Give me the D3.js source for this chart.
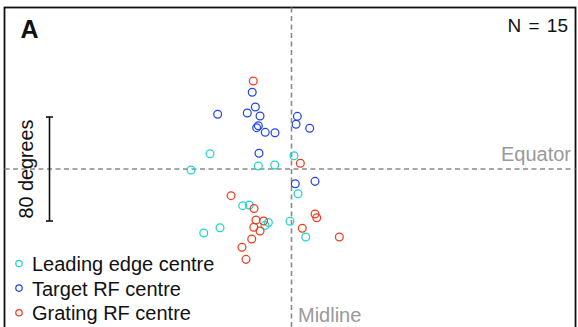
<!DOCTYPE html>
<html>
<head>
<meta charset="utf-8">
<script src="https://cdn.jsdelivr.net/npm/d3@7"></script>
<style>
  html, body { margin: 0; padding: 0; background: #fff; }
  svg { display: block; font-family: "Liberation Sans", Arial, Helvetica, sans-serif; }
</style>
</head>
<body>
<svg id="chart" width="578" height="327"></svg>
<script>
// Receptive-field centres in visual space, degrees (azimuth, elevation)
const seriesNames = ["Leading edge centre", "Target RF centre", "Grating RF centre"];
const seriesColors = ["#1fd4cf", "#2244ee", "#f03c1e"];

const leadingEdge = [
  [-62.7, 11.7], [1.9, 10.2], [-77.3, -0.8], [-25.5, 2.3], [-12.9, 3.1],
  [5.0, -19.0], [-37.5, -28.2], [-32.5, -27.7], [-17.8, -41.2], [-20.4, -43.5],
  [-1.2, -40.2], [-55.0, -45.2], [-67.5, -49.2], [10.9, -52.3]
];
const targetRF = [
  [-30.2, 59.0], [-56.8, 42.1], [-34.0, 43.1], [-27.8, 47.7], [-24.2, 40.8],
  [-25.5, 33.3], [-26.8, 31.8], [-20.2, 28.2], [-12.7, 27.9], [4.5, 40.5],
  [3.5, 34.4], [14.0, 31.3], [-25.0, 12.1], [2.9, -11.3], [18.1, -9.5]
];
const gratingRF = [
  [-29.4, 67.7], [6.8, 4.4], [-46.5, -20.5], [-28.8, -30.4], [18.1, -34.6],
  [19.4, -37.5], [-27.3, -39.2], [-21.5, -40.0], [-29.0, -44.8], [-24.2, -47.7],
  [8.3, -45.6], [36.8, -52.3], [-30.6, -53.8], [-38.1, -60.2], [-35.0, -69.5]
];
const scaleBarDegrees = 80;
const panelLabel = "A";
const countLabel = "N = 15";

const svg = d3.select("#chart");

// Panel frame (open at the bottom edge of the view)
const frame = { left: 4.5, top: 7.5, right: 575.5, bottom: 340 };

// Linear degree scales centred on the midline / equator
const x = d3.scaleLinear().domain([-100, 100]).range([291.5 - 130, 291.5 + 130]);
const y = d3.scaleLinear().domain([-100, 100]).range([169 + 130, 169 - 130]);

svg.append("rect")
  .attr("x", frame.left).attr("y", frame.top)
  .attr("width", frame.right - frame.left).attr("height", frame.bottom - frame.top)
  .attr("fill", "none").attr("stroke", "#111").attr("stroke-width", 1.8);

// Midline and equator reference lines
const refStyle = g => g.attr("stroke", "#8a8a8a").attr("stroke-width", 1.6).attr("stroke-dasharray", "5,3.5");
svg.append("line")
  .attr("x1", x(0)).attr("x2", x(0)).attr("y1", frame.top).attr("y2", frame.bottom)
  .call(refStyle);
svg.append("line")
  .attr("x1", frame.left).attr("x2", frame.right).attr("y1", y(0)).attr("y2", y(0))
  .call(refStyle);

svg.append("text").attr("x", 571).attr("y", 161).attr("text-anchor", "end")
  .attr("font-size", 20).attr("fill", "#999").text("Equator");
svg.append("text").attr("x", x(0) + 6.5).attr("y", 322)
  .attr("font-size", 20).attr("fill", "#999").text("Midline");

// Scale bar
const barX = 49.5;
const bar = svg.append("g").attr("stroke", "#111").attr("stroke-width", 1.6);
bar.append("line").attr("x1", barX).attr("x2", barX)
  .attr("y1", y(scaleBarDegrees / 2)).attr("y2", y(-scaleBarDegrees / 2));
[scaleBarDegrees / 2, -scaleBarDegrees / 2].forEach(v => {
  bar.append("line").attr("x1", barX - 3.5).attr("x2", barX + 3.5)
    .attr("y1", y(v)).attr("y2", y(v));
});
svg.append("text")
  .attr("transform", `translate(33.3, ${y(0)}) rotate(-90)`)
  .attr("text-anchor", "middle").attr("font-size", 19.8).attr("fill", "#111")
  .text(`${scaleBarDegrees} degrees`);

// Panel letter and sample size
svg.append("text").attr("x", 20.5).attr("y", 38).attr("font-size", 25)
  .attr("font-weight", "bold").attr("fill", "#111").text(panelLabel);
svg.append("text").attr("x", 568).attr("y", 32).attr("text-anchor", "end")
  .attr("font-size", 19).attr("word-spacing", 2).attr("fill", "#111").text(countLabel);

// Data points
const allSeries = [leadingEdge, targetRF, gratingRF];
allSeries.forEach((pts, i) => {
  svg.append("g").selectAll("circle").data(pts).join("circle")
    .attr("cx", d => x(d[0])).attr("cy", d => y(d[1]))
    .attr("r", 3.9).attr("fill", "none")
    .attr("stroke", seriesColors[i]).attr("stroke-width", 1.25);
});

// Legend
const legend = svg.append("g");
seriesNames.forEach((name, i) => {
  const ly = 263.5 + i * 24.6;
  legend.append("circle").attr("cx", 19).attr("cy", ly).attr("r", 3.2)
    .attr("fill", "none").attr("stroke", seriesColors[i]).attr("stroke-width", 1.25);
  legend.append("text").attr("x", 32).attr("y", ly + 7.5)
    .attr("font-size", 20).attr("fill", "#111").text(name);
});
</script>
</body>
</html>
